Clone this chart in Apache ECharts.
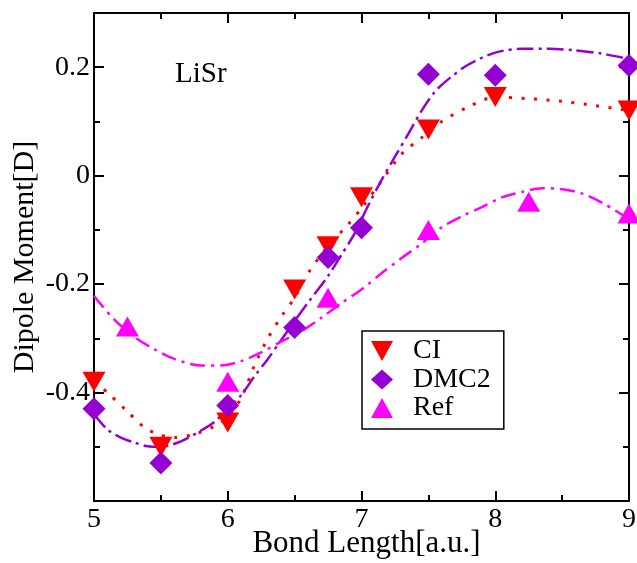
<!DOCTYPE html>
<html>
<head>
<meta charset="utf-8">
<script src="https://cdn.jsdelivr.net/npm/echarts@6/dist/echarts.min.js"></script>
<style>html,body{margin:0;padding:0;background:#fff;}#c{width:637px;height:563px;}</style>
</head>
<body>
<div id="c"></div>
<script>
// ---- data ----
const ciX = [5, 5.5, 6, 6.5, 6.75, 7, 7.5, 8, 9];
const ciY = [-0.38, -0.50, -0.455, -0.21, -0.13, -0.04, 0.085, 0.145, 0.12];
const dmcX = [5, 5.5, 6, 6.5, 6.75, 7, 7.5, 8, 9];
const dmcY = [-0.43, -0.53, -0.424, -0.28, -0.151, -0.096, 0.187, 0.185, 0.203];
const refX = [5.25, 6, 6.75, 7.5, 8.25, 9];
const refY = [-0.278, -0.38, -0.225, -0.10, -0.048, -0.07];

// fitted curves
const ciFitX = [5, 5.1, 5.25, 5.4, 5.6, 5.75, 5.9, 6, 6.1, 6.2, 6.3, 6.4, 6.5, 6.6, 6.75, 6.9, 7.0, 7.15, 7.3, 7.45, 7.6, 7.8, 8.0, 8.25, 8.5, 8.75, 9];
const ciFitY = [-0.38, -0.40, -0.435, -0.468, -0.483, -0.477, -0.462, -0.445, -0.41, -0.35, -0.30, -0.26, -0.225, -0.18, -0.13, -0.09, -0.06, -0.01, 0.04, 0.07, 0.10, 0.127, 0.145, 0.142, 0.137, 0.129, 0.12];
const dmcFitX = [5, 5.1, 5.2, 5.3, 5.4, 5.5, 5.65, 5.8, 5.9, 6.0, 6.1, 6.2, 6.3, 6.4, 6.5, 6.6, 6.75, 6.85, 6.95, 7.05, 7.15, 7.25, 7.35, 7.45, 7.55, 7.65, 7.8, 8.0, 8.2, 8.4, 8.6, 8.8, 9];
const dmcFitY = [-0.44, -0.468, -0.483, -0.492, -0.499, -0.50, -0.49, -0.47, -0.454, -0.43, -0.405, -0.37, -0.338, -0.303, -0.268, -0.234, -0.185, -0.146, -0.106, -0.055, -0.008, 0.035, 0.077, 0.12, 0.155, 0.178, 0.205, 0.227, 0.234, 0.234, 0.231, 0.225, 0.215];
const refFitX = [5, 5.15, 5.3, 5.45, 5.6, 5.8, 5.95, 6.1, 6.25, 6.4, 6.55, 6.7, 6.85, 7.0, 7.15, 7.3, 7.45, 7.6, 7.75, 7.9, 8.05, 8.2, 8.35, 8.5, 8.65, 8.8, 9];
const refFitY = [-0.222, -0.265, -0.297, -0.32, -0.338, -0.35, -0.35, -0.342, -0.326, -0.306, -0.287, -0.262, -0.235, -0.21, -0.18, -0.152, -0.125, -0.095, -0.075, -0.058, -0.04, -0.03, -0.023, -0.025, -0.033, -0.05, -0.08];

const xTickLabels = ['5', '6', '7', '8', '9'];
const yTickLabels = ['-0.4', '-0.2', '0', '0.2'];
const seriesNames = ['CI', 'DMC2', 'Ref'];
const plotLabel = 'LiSr';
const xTitle = 'Bond Length[a.u.]';
const yTitle = 'Dipole Moment[D]';

// ---- chart ----
const FONT = 'Liberation Serif';
const RED = '#ff0000', PURPLE = '#9400d3', MAGENTA = '#ff00ff';
const pairs = (xs, ys) => xs.map((x, i) => [x, ys[i]]);

function yFmt(v) {
  for (const s of yTickLabels) if (Math.abs(parseFloat(s) - v) < 1e-6) return s;
  return '';
}
function xFmt(v) {
  for (const s of xTickLabels) if (Math.abs(parseFloat(s) - v) < 1e-6) return s;
  return '';
}
const axLine = { show: true, onZero: false, lineStyle: { color: '#000', width: 2 } };
const noLine = { show: false, onZero: false };
const tick = (len) => ({ show: true, inside: true, length: len, lineStyle: { color: '#000', width: 2 } });

const xBase = { type: 'value', min: 5, max: 9, interval: 1, splitLine: { show: false } };
const yBase = { type: 'value', min: -0.6, max: 0.3, splitLine: { show: false } };

const option = {
  animation: false,
  backgroundColor: '#fff',
  textStyle: { fontFamily: FONT },
  grid: { left: 94, right: 8, top: 13, bottom: 62, containLabel: false, outerBoundsMode: 'none' },
  title: {
    text: plotLabel, left: 170, top: 55,
    textStyle: { fontFamily: FONT, fontSize: 29, fontWeight: 'normal', color: '#000' }
  },
  legend: {
    orient: 'vertical', left: 362, top: 331,
    padding: [6, 13, 7, 9],
    borderColor: '#000', borderWidth: 1.5,
    itemWidth: 22, itemHeight: 20, itemGap: 0.5,
    selectedMode: false,
    textStyle: { fontFamily: FONT, fontSize: 28, lineHeight: 28, color: '#000', padding: [0, 0, 0, 15] },
    data: [
      { name: seriesNames[0], icon: 'path://M0,0L22,0L11,20Z', itemStyle: { color: RED } },
      { name: seriesNames[1], icon: 'diamond', itemStyle: { color: PURPLE } },
      { name: seriesNames[2], icon: 'triangle', itemStyle: { color: MAGENTA } }
    ]
  },
  xAxis: [
    Object.assign({}, xBase, {
      position: 'bottom', axisLine: axLine,
      axisTick: tick(10),
      minorTick: { show: true, splitNumber: 2, length: 6, lineStyle: { color: '#000', width: 2 } },
      axisLabel: { show: true, margin: 5, formatter: xFmt, fontFamily: FONT, fontSize: 28, color: '#000' },
      name: xTitle, nameLocation: 'middle', nameGap: 27, nameMoveOverlap: false,
      nameTextStyle: { fontFamily: FONT, fontSize: 31, color: '#000', padding: [0, 0, 0, 10] }
    }),
    Object.assign({}, xBase, {
      position: 'top', axisLine: axLine,
      axisTick: tick(10),
      minorTick: { show: true, splitNumber: 2, length: 6, lineStyle: { color: '#000', width: 2 } },
      axisLabel: { show: false }
    })
  ],
  yAxis: [
    Object.assign({}, yBase, {
      position: 'left', interval: 0.2, axisLine: axLine,
      axisTick: tick(10),
      axisLabel: { show: true, margin: 4, formatter: yFmt, fontFamily: FONT, fontSize: 28, color: '#000' },
      name: yTitle, nameLocation: 'middle', nameGap: 54, nameRotate: 90, nameMoveOverlap: false,
      nameTextStyle: { fontFamily: FONT, fontSize: 30, color: '#000' }
    }),
    Object.assign({}, yBase, {
      position: 'left', interval: 0.1, axisLine: noLine,
      axisTick: tick(6), axisLabel: { show: false }
    }),
    Object.assign({}, yBase, {
      position: 'right', interval: 0.2, axisLine: axLine,
      axisTick: tick(10), axisLabel: { show: false }
    }),
    Object.assign({}, yBase, {
      position: 'right', interval: 0.1, axisLine: noLine,
      axisTick: tick(6), axisLabel: { show: false }
    })
  ],
  series: [
    { type: 'line', name: 'ciFit', data: pairs(ciFitX, ciFitY), smooth: 0.3, showSymbol: false, silent: true,
      lineStyle: { color: RED, width: 3, type: [3, 9.5], cap: 'butt' }, z: 2 },
    { type: 'line', name: 'dmcFit', data: pairs(dmcFitX, dmcFitY), smooth: 0.3, showSymbol: false, silent: true,
      lineStyle: { color: PURPLE, width: 2.5, type: [17, 5, 3, 5], cap: 'butt' }, z: 2 },
    { type: 'line', name: 'refFit', data: pairs(refFitX, refFitY), smooth: 0.3, showSymbol: false, silent: true,
      lineStyle: { color: MAGENTA, width: 2.5, type: [15, 6, 3, 6], cap: 'butt' }, z: 2 },
    { type: 'scatter', name: seriesNames[0], data: pairs(ciX, ciY), symbol: 'triangle', symbolRotate: 180,
      symbolSize: [23, 20], itemStyle: { color: RED, opacity: 1 }, clip: false, z: 3 },
    { type: 'scatter', name: seriesNames[1], data: pairs(dmcX, dmcY), symbol: 'diamond',
      symbolSize: [23, 23], itemStyle: { color: PURPLE, opacity: 1 }, clip: false, z: 3 },
    { type: 'scatter', name: seriesNames[2], data: pairs(refX, refY), symbol: 'triangle',
      symbolSize: [23, 20], itemStyle: { color: MAGENTA, opacity: 1 }, clip: false, z: 3 }
  ]
};
echarts.init(document.getElementById('c'), null, { renderer: 'canvas' }).setOption(option);
</script>
</body>
</html>
